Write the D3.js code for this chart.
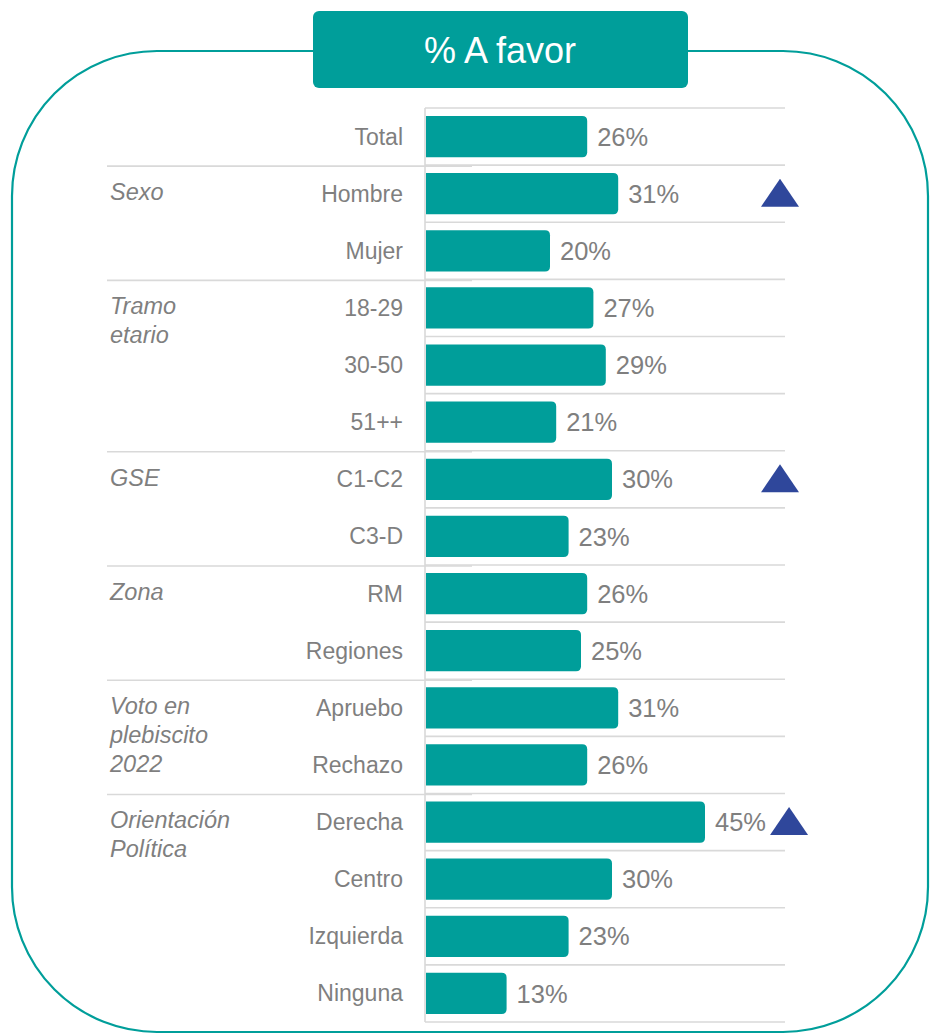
<!DOCTYPE html>
<html>
<head>
<meta charset="utf-8">
<script src="https://cdn.jsdelivr.net/npm/d3@7"></script>
<style>
  body { margin: 0; background: #fff; }
  svg { display: block; font-family: "Liberation Sans", Arial, sans-serif; }
</style>
</head>
<body>
<div class="root"></div>
<script>
// data
var categories = ["Total", "Hombre", "Mujer", "18-29", "30-50", "51++", "C1-C2", "C3-D",
                  "RM", "Regiones", "Apruebo", "Rechazo", "Derecha", "Centro", "Izquierda", "Ninguna"];
var values = [26, 31, 20, 27, 29, 21, 30, 23, 26, 25, 31, 26, 45, 30, 23, 13];
var groupNames = [["Sexo"], ["Tramo", "etario"], ["GSE"], ["Zona"],
                  ["Voto en", "plebiscito", "2022"], ["Orientación", "Política"]];
var groupStarts = ["Hombre", "18-29", "C1-C2", "RM", "Apruebo", "Derecha"];
var flagged = ["Hombre", "C1-C2", "Derecha"];
var title = "% A favor";

var width = 931, height = 1034;
var teal = "#009e9a", grey = "#7f7f7f", gridGrey = "#d9d9d9", navy = "#2f479b";

var svg = d3.select(".root").append("svg")
  .attr("width", width)
  .attr("height", height);

// outer frame
svg.append("rect")
  .attr("x", 12).attr("y", 51)
  .attr("width", 916).attr("height", 981)
  .attr("rx", 145).attr("ry", 145)
  .attr("fill", "none")
  .attr("stroke", teal)
  .attr("stroke-width", 2.2);

// header
svg.append("rect")
  .attr("x", 313).attr("y", 11)
  .attr("width", 375).attr("height", 77)
  .attr("rx", 6)
  .attr("fill", teal);
svg.append("text")
  .attr("x", 500).attr("y", 50)
  .attr("dy", "0.35em")
  .attr("text-anchor", "middle")
  .attr("fill", "#fff")
  .style("font-size", "36px")
  .text(title);

var x = d3.scaleLinear().domain([0, 100]).range([426, 1046]);
var y = d3.scaleBand().domain(categories).range([108, 1022]).paddingInner(0.28).paddingOuter(0.14);
var step = y.step();
function rowTop(c) { return y(c) - y.paddingOuter() * step; }

// row grid lines
var lineYs = categories.map(rowTop).concat([rowTop(categories[categories.length - 1]) + step]);
svg.append("g").selectAll("line")
  .data(lineYs)
  .enter().append("line")
  .attr("x1", 425).attr("x2", 785)
  .attr("y1", function (d) { return d; })
  .attr("y2", function (d) { return d; })
  .attr("stroke", gridGrey)
  .attr("stroke-width", 1.6);

// group separators
svg.append("g").selectAll("line")
  .data(groupStarts)
  .enter().append("line")
  .attr("x1", 107).attr("x2", 472)
  .attr("y1", function (d) { return rowTop(d) + 1; })
  .attr("y2", function (d) { return rowTop(d) + 1; })
  .attr("stroke", gridGrey)
  .attr("stroke-width", 1.6);

// axis line
svg.append("line")
  .attr("x1", 425).attr("x2", 425)
  .attr("y1", lineYs[0]).attr("y2", lineYs[lineYs.length - 1])
  .attr("stroke", gridGrey)
  .attr("stroke-width", 1.6);

// bars with rounded right end
function barPath(c, v) {
  var x0 = x(0), x1 = x(v), y0 = y(c), h = y.bandwidth(), r = 5;
  return "M" + x0 + "," + y0 +
    "H" + (x1 - r) +
    "Q" + x1 + "," + y0 + " " + x1 + "," + (y0 + r) +
    "V" + (y0 + h - r) +
    "Q" + x1 + "," + (y0 + h) + " " + (x1 - r) + "," + (y0 + h) +
    "H" + x0 + "Z";
}
svg.append("g").selectAll("path")
  .data(categories)
  .enter().append("path")
  .attr("d", function (d, i) { return barPath(d, values[i]); })
  .attr("fill", teal);

// value labels
var valueLabels = svg.append("g").selectAll("text")
  .data(categories)
  .enter().append("text")
  .attr("x", function (d, i) { return x(values[i]) + 10; })
  .attr("y", function (d) { return y(d) + y.bandwidth() / 2; })
  .attr("dy", "0.36em")
  .attr("fill", grey)
  .style("font-size", "25.5px")
  .text(function (d, i) { return values[i] + "%"; });

// category labels
svg.append("g").selectAll("text")
  .data(categories)
  .enter().append("text")
  .attr("x", 403)
  .attr("y", function (d) { return y(d) + y.bandwidth() / 2; })
  .attr("dy", "0.35em")
  .attr("text-anchor", "end")
  .attr("fill", grey)
  .style("font-size", "23px")
  .text(function (d) { return d; });

// group labels
var groups = svg.append("g").selectAll("text")
  .data(groupNames)
  .enter().append("text")
  .attr("x", 110)
  .attr("y", function (d, i) { return y(groupStarts[i]) + y.bandwidth() / 2 - 2; })
  .attr("fill", grey)
  .style("font-size", "23.5px")
  .style("font-style", "italic");
groups.each(function (d) {
  var t = d3.select(this), x0 = t.attr("x");
  d.forEach(function (line, k) {
    t.append("tspan")
      .attr("x", x0)
      .attr("dy", k === 0 ? "0.35em" : "1.24em")
      .text(line);
  });
});

// significance triangles
var labelEnds = {};
valueLabels.each(function (d) { labelEnds[d] = this.getBBox().x + this.getBBox().width; });
svg.append("g").selectAll("path")
  .data(flagged)
  .enter().append("path")
  .attr("d", function (d) {
    var cx = Math.max(780, labelEnds[d] + 23), cy = y(d) + y.bandwidth() / 2;
    return "M" + (cx - 19) + "," + (cy + 13) + "L" + cx + "," + (cy - 15) + "L" + (cx + 19) + "," + (cy + 13) + "Z";
  })
  .attr("fill", navy);
</script>
</body>
</html>
